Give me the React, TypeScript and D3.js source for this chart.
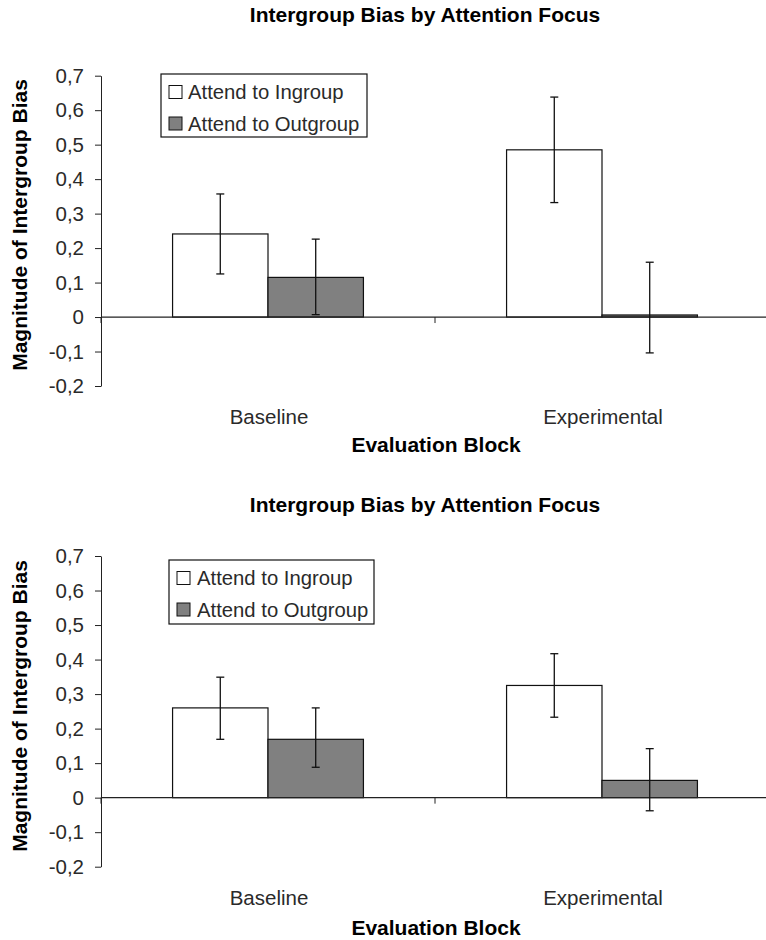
import React, { useEffect, useRef } from 'react';
import * as d3 from 'd3';

// data
const categories = ['Baseline', 'Experimental'];
const seriesNames = ['Attend to Ingroup', 'Attend to Outgroup'];
const seriesFills = ['#ffffff', '#808080'];

// top panel: bar heights and error bar ends (low / high)
const topIngroup = [0.241, 0.485];
const topIngroupLow = [0.125, 0.332];
const topIngroupHigh = [0.357, 0.638];
const topOutgroup = [0.115, 0.006];
const topOutgroupLow = [0.007, -0.104];
const topOutgroupHigh = [0.226, 0.159];

// bottom panel
const bottomIngroup = [0.26, 0.325];
const bottomIngroupLow = [0.169, 0.233];
const bottomIngroupHigh = [0.349, 0.417];
const bottomOutgroup = [0.169, 0.05];
const bottomOutgroupLow = [0.088, -0.038];
const bottomOutgroupHigh = [0.26, 0.142];

const yTickValues = [-0.2, -0.1, 0, 0.1, 0.2, 0.3, 0.4, 0.5, 0.6, 0.7];
const yTickLabels = ['-0,2', '-0,1', '0', '0,1', '0,2', '0,3', '0,4', '0,5', '0,6', '0,7'];

const title = 'Intergroup Bias by Attention Focus';
const xTitle = 'Evaluation Block';
const yTitle = 'Magnitude of Intergroup Bias';

const FONT = "'Liberation Sans', Arial, sans-serif";

const panels = [
  {
    values: [topIngroup, topOutgroup],
    lows: [topIngroupLow, topOutgroupLow],
    highs: [topIngroupHigh, topOutgroupHigh],
    titleY: 22, yRange: [386, 75.7], catY: 424, xTitleY: 452, yTitleC: 225,
    legend: { x: 161, y: 74, w: 206, h: 63, text: 27 },
  },
  {
    values: [bottomIngroup, bottomOutgroup],
    lows: [bottomIngroupLow, bottomOutgroupLow],
    highs: [bottomIngroupHigh, bottomOutgroupHigh],
    titleY: 511.5, yRange: [866.7, 556], catY: 905, xTitleY: 935, yTitleC: 706,
    legend: { x: 169, y: 560, w: 205, h: 64, text: 28 },
  },
];

const App = () => {
  const ref = useRef<SVGSVGElement>(null);

  useEffect(() => {
    const svg = d3.select(ref.current);
    svg.selectAll('*').remove();

    const left = 101, right = 769;

    panels.forEach(p => {
      const g = svg.append('g');

      const y = d3.scaleLinear().domain([-0.2, 0.7]).range(p.yRange);
      const x0 = d3.scaleBand().domain(categories).range([left, right]);
      const x1 = d3.scaleBand().domain(seriesNames).range([0, x0.bandwidth()]).paddingOuter(0.75);

      // title
      g.append('text')
        .attr('x', 425).attr('y', p.titleY)
        .attr('text-anchor', 'middle')
        .style('font', `bold 21px ${FONT}`)
        .style('fill', '#000')
        .text(title);

      // y axis
      const yAxis = g.append('g')
        .attr('transform', `translate(${left},0)`)
        .call(d3.axisLeft(y).tickValues(yTickValues).tickSize(6).tickSizeOuter(0)
          .tickFormat((d, i) => yTickLabels[i]));
      yAxis.select('.domain').attr('stroke', '#222');
      yAxis.selectAll('line').attr('stroke', '#222');
      yAxis.selectAll('text')
        .attr('x', -17)
        .style('font', `20.5px ${FONT}`)
        .style('fill', '#2a2a2a');

      // bars
      categories.forEach((cat, ci) => {
        seriesNames.forEach((s, si) => {
          const v = p.values[si][ci];
          const bx = x0(cat)! + x1(s)!;
          g.append('rect')
            .attr('x', bx).attr('width', x1.bandwidth())
            .attr('y', Math.min(y(v), y(0))).attr('height', Math.abs(y(0) - y(v)))
            .attr('fill', seriesFills[si])
            .attr('stroke', '#111').attr('stroke-width', 1.2);
        });
      });

      // zero line + category ticks
      g.append('line')
        .attr('x1', left).attr('x2', right).attr('y1', y(0)).attr('y2', y(0))
        .attr('stroke', '#222').attr('stroke-width', 1.2);
      categories.forEach(cat => {
        const tx = x0(cat)!;
        g.append('line')
          .attr('x1', tx).attr('x2', tx).attr('y1', y(0)).attr('y2', y(0) + 6)
          .attr('stroke', '#222');
      });

      // error bars
      categories.forEach((cat, ci) => {
        seriesNames.forEach((s, si) => {
          const lo = p.lows[si][ci];
          const hi = p.highs[si][ci];
          const cx = x0(cat)! + x1(s)! + x1.bandwidth() / 2;
          const eg = g.append('g').attr('stroke', '#111').attr('stroke-width', 1.3);
          eg.append('line').attr('x1', cx).attr('x2', cx).attr('y1', y(hi)).attr('y2', y(lo));
          eg.append('line').attr('x1', cx - 4).attr('x2', cx + 4).attr('y1', y(hi)).attr('y2', y(hi));
          eg.append('line').attr('x1', cx - 4).attr('x2', cx + 4).attr('y1', y(lo)).attr('y2', y(lo));
        });
      });

      // category labels
      categories.forEach(cat => {
        g.append('text')
          .attr('x', x0(cat)! + x0.bandwidth() / 2 + 1).attr('y', p.catY)
          .attr('text-anchor', 'middle')
          .style('font', `20.5px ${FONT}`)
          .style('fill', '#2a2a2a')
          .text(cat);
      });

      // axis titles
      g.append('text')
        .attr('x', 436).attr('y', p.xTitleY)
        .attr('text-anchor', 'middle')
        .style('font', `bold 21px ${FONT}`)
        .text(xTitle);
      g.append('text')
        .attr('transform', `translate(27,${p.yTitleC}) rotate(-90)`)
        .attr('text-anchor', 'middle')
        .style('font', `bold 21px ${FONT}`)
        .text(yTitle);

      // legend
      const L = p.legend;
      const lg = g.append('g').attr('transform', `translate(${L.x},${L.y})`);
      lg.append('rect')
        .attr('width', L.w).attr('height', L.h)
        .attr('fill', '#fff').attr('stroke', '#111').attr('stroke-width', 1.2);
      seriesNames.forEach((s, si) => {
        const ry = 18 + si * 31.5;
        lg.append('rect')
          .attr('x', 8).attr('y', ry - 6.5).attr('width', 13).attr('height', 13)
          .attr('fill', seriesFills[si]).attr('stroke', '#111');
        lg.append('text')
          .attr('x', L.text).attr('y', ry + 7)
          .style('font', `20.3px ${FONT}`)
          .style('fill', '#2a2a2a')
          .text(s);
      });
    });
  }, []);

  return (
    <svg ref={ref} width={766} height={940}
      style={{ position: 'absolute', left: 0, top: 0, background: '#fff' }} />
  );
};

export default App;
